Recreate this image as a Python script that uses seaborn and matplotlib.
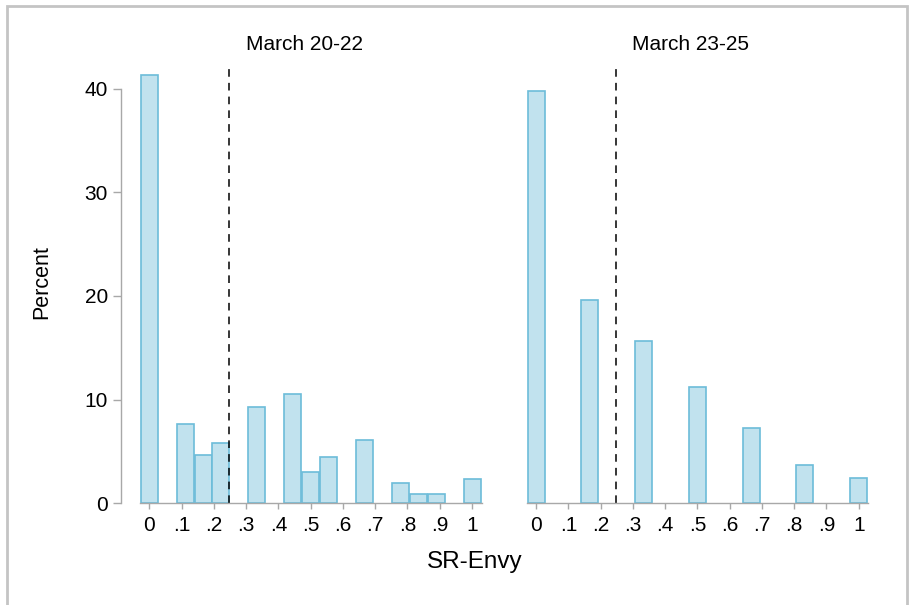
import numpy as np
import pandas as pd
import matplotlib
matplotlib.use("Agg")
import matplotlib.pyplot as plt
import seaborn as sns

# SR-Envy values (bar positions) and percent per panel
x_early = [0, .111, .167, .222, .333, .444, .5, .556, .667, .778, .833, .889, 1]
pct_early = [41.35, 7.68, 4.63, 5.85, 9.32, 10.57, 2.99, 4.43, 6.07, 1.99, 0.93, 0.93, 2.38]
x_late = [0, .167, .333, .5, .667, .833, 1]
pct_late = [39.81, 19.57, 15.61, 11.18, 7.23, 3.69, 2.44]
means = [0.248, 0.247]
titles = ["March 20-22", "March 23-25"]
xtick_vals = [0, .1, .2, .3, .4, .5, .6, .7, .8, .9, 1]
xtick_labels = ["0", ".1", ".2", ".3", ".4", ".5", ".6", ".7", ".8", ".9", "1"]
ytick_vals = [0, 10, 20, 30, 40]

sns.set_style("white")
plt.rcParams['font.family'] = ['Liberation Sans', 'DejaVu Sans']
plt.rcParams['text.color'] = 'black'
plt.rcParams['xtick.labelcolor'] = 'black'
plt.rcParams['ytick.labelcolor'] = 'black'

fill = "#c1e2ee"
edge = "#6cbcd9"
axis_grey = "#a8a8a8"
bar_w = 0.0527

fig = plt.figure(figsize=(9.1, 6.05), dpi=100)
ax1 = fig.add_axes([140 / 910, 101.7 / 605, 341.7 / 910, 440.6 / 605])
ax2 = fig.add_axes([526.7 / 910, 101.7 / 605, 341.7 / 910, 440.6 / 605])

panels = [(ax1, x_early, pct_early), (ax2, x_late, pct_late)]
for i, (ax, xs, ps) in enumerate(panels):
    df = pd.DataFrame({"x": xs, "pct": ps})
    step = np.diff(sorted(xs)).min()
    sns.barplot(data=df, x="x", y="pct", native_scale=True, width=bar_w / step,
                color=fill, saturation=1, edgecolor=edge, linewidth=1.2,
                errorbar=None, ax=ax)
    ax.axvline(means[i], color="black", linestyle=(0, (5, 4)), linewidth=1.1)
    ax.set_xlim(-0.029, 1.030)
    ax.set_ylim(0, 42.5)
    ax.set_xticks(xtick_vals)
    ax.set_xticklabels(xtick_labels)
    ax.set_xlabel("")
    ax.set_ylabel("")
    ax.set_title(titles[i], fontsize=15, x=0.48, pad=9, color="black")
    for s in ["top", "right"]:
        ax.spines[s].set_visible(False)
    ax.spines["bottom"].set_color(axis_grey)
    ax.spines["bottom"].set_linewidth(1)
    ax.tick_params(axis="x", bottom=True, length=4, width=1, color=axis_grey,
                   labelsize=15, pad=5, labelcolor="black")
    if i == 0:
        ax.set_yticks(ytick_vals)
        ax.spines["left"].set_position(("outward", 14))
        ax.spines["left"].set_bounds(0, 40)
        ax.spines["left"].set_color(axis_grey)
        ax.spines["left"].set_linewidth(1)
        ax.tick_params(axis="y", left=True, length=6, width=1, color=axis_grey,
                       labelsize=15, pad=3, labelcolor="black")
    else:
        ax.spines["left"].set_visible(False)
        ax.set_yticks([])

fig.text(475 / 910, 1 - 562 / 605, "SR-Envy", fontsize=17.5, ha="center", va="center")
fig.text(42 / 910, 1 - 282 / 605, "Percent", fontsize=15.5, rotation=90,
         ha="center", va="center")

# grey frame around the graph region
frame = plt.Rectangle((7 / 910, -0.05), 900 / 910, 1.05 - 6 / 605, transform=fig.transFigure,
                      fill=False, edgecolor="#c4c4c4", linewidth=2)
fig.patches.append(frame)

fig.savefig("out.png", dpi=100)
